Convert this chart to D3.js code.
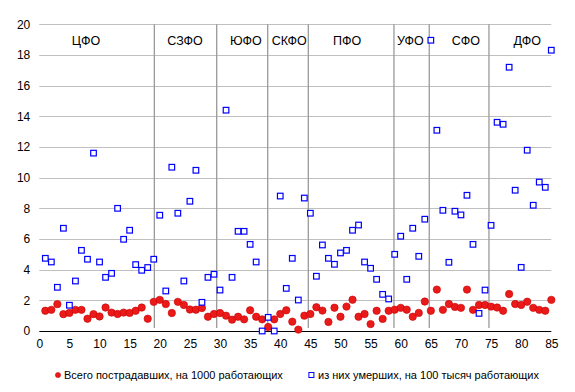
<!DOCTYPE html>
<html>
<head>
<meta charset="utf-8">
<script src="https://cdn.jsdelivr.net/npm/d3@7/dist/d3.min.js"></script>
<style>
  html, body { margin: 0; padding: 0; background: #fff; }
  svg { display: block; font-family: "Liberation Sans", Arial, sans-serif; }
</style>
</head>
<body>
<svg id="chart" width="575" height="392"></svg>
<script>
// ---- data ----
const injured = [
  1.32, 1.38, 1.75, 1.10, 1.18, 1.38, 1.38, 0.80, 1.10, 0.95,
  1.53, 1.20, 1.11, 1.20, 1.18, 1.32, 1.53, 0.80, 1.90, 2.03,
  1.76, 1.17, 1.90, 1.70, 1.40, 1.39, 1.50, 0.93, 1.11, 1.17,
  1.00, 0.74, 0.93, 0.76, 1.35, 0.93, 0.76, 0.26, 0.76, 1.11,
  1.35, 0.61, 0.09, 1.00, 1.11, 1.55, 1.33, 0.59, 1.52, 0.93,
  1.59, 2.04, 0.93, 1.11, 0.45, 1.32, 0.79, 1.32, 1.39, 1.51,
  1.39, 0.93, 1.18, 1.92, 1.32, 2.70, 1.38, 1.76, 1.57, 1.51,
  2.70, 1.38, 1.70, 1.70, 1.59, 1.53, 1.32, 2.41, 1.76, 1.70,
  1.91, 1.51, 1.38, 1.32, 2.03
];
const deaths = [
  4.74, 4.50, 2.85, 6.70, 1.68, 3.26, 5.26, 4.68, 11.60, 4.50,
  3.50, 3.76, 8.00, 5.98, 6.57, 4.33, 3.96, 4.14, 4.68, 7.55,
  2.61, 10.68, 7.68, 3.26, 8.46, 10.48, 1.87, 3.50, 3.70, 2.67,
  14.40, 3.50, 6.50, 6.50, 5.65, 4.50, 0.00, 0.89, 0.00, 8.80,
  2.78, 4.74, 2.02, 8.67, 7.68, 3.57, 5.61, 4.74, 4.35, 5.09,
  5.26, 6.57, 6.91, 4.50, 4.09, 3.37, 2.39, 2.09, 5.00, 6.18,
  3.37, 6.70, 4.87, 7.29, 18.96, 13.09, 7.87, 4.48, 7.81, 7.57,
  8.85, 5.65, 1.15, 2.67, 6.89, 13.61, 13.48, 17.20, 9.18, 4.15,
  11.79, 8.20, 9.71, 9.37, 18.31
];
const districts = ["ЦФО", "СЗФО", "ЮФО", "СКФО", "ПФО", "УФО", "СФО", "ДФО"];
const districtLabelX = [7.76, 24.2, 34.3, 41.5, 51.1, 61.6, 70.8, 81.0];
const separatorsX = [19.1, 29.45, 37.92, 44.66, 58.88, 64.74, 74.65];
const xTicks = d3.range(0, 86, 5);
const yTicks = d3.range(0, 21, 2);
const seriesNames = ["Всего пострадавших, на 1000 работающих", "из них умерших, на 100 тысяч работающих"];

// ---- layout ----
const svg = d3.select("#chart");
const x = d3.scaleLinear().domain([0, 85]).range([39.3, 551.3]);
const y = d3.scaleLinear().domain([0, 20]).range([331, 24.3]);
const font = "12px";

// gridlines
svg.append("g").selectAll("line").data(yTicks.filter(d => d > 0)).join("line")
  .attr("x1", x(0)).attr("x2", x(85))
  .attr("y1", d => Math.round(y(d)) + 0.5).attr("y2", d => Math.round(y(d)) + 0.5)
  .attr("stroke", "#c0c0c0").attr("stroke-width", 1);

// district separators
svg.append("g").selectAll("line").data(separatorsX).join("line")
  .attr("x1", d => x(d)).attr("x2", d => x(d))
  .attr("y1", y(20)).attr("y2", y(0) - 3)
  .attr("stroke", "#9a9a9a").attr("stroke-width", 1.3);

// x axis line
svg.append("line")
  .attr("x1", x(0)).attr("x2", x(85))
  .attr("y1", Math.round(y(0)) + 0.5).attr("y2", Math.round(y(0)) + 0.5)
  .attr("stroke", "#000").attr("stroke-width", 1);

// y tick labels
const yAxis = d3.axisLeft(y).tickValues(yTicks).tickSize(0).tickPadding(9);
const gy = svg.append("g").attr("transform", `translate(${x(0)},0)`).call(yAxis);
gy.select(".domain").remove();
gy.selectAll("text").attr("font-size", font).attr("fill", "#000")
  .attr("font-family", "'Liberation Sans', Arial, sans-serif");

// x tick labels
const xAxis = d3.axisBottom(x).tickValues(xTicks).tickSize(0).tickPadding(8);
const gx = svg.append("g").attr("transform", `translate(0,${y(0)})`).call(xAxis);
gx.select(".domain").remove();
gx.selectAll("text").attr("font-size", font).attr("fill", "#000")
  .attr("font-family", "'Liberation Sans', Arial, sans-serif");

// district labels
svg.append("g").selectAll("text").data(districts).join("text")
  .attr("x", (d, i) => x(districtLabelX[i]))
  .attr("y", y(18.65))
  .attr("text-anchor", "middle")
  .attr("font-size", "12.5px").attr("fill", "#000")
  .text(d => d);

// red circles
svg.append("g").selectAll("circle").data(injured).join("circle")
  .attr("cx", (d, i) => x(i + 1)).attr("cy", d => y(d))
  .attr("r", 3.7)
  .attr("fill", "#ea1a1a").attr("stroke", "#c80000").attr("stroke-width", 0.6);

// blue squares
const s = 5.6;
svg.append("g").selectAll("rect").data(deaths).join("rect")
  .attr("x", (d, i) => x(i + 1) - s / 2).attr("y", d => y(d) - s / 2)
  .attr("width", s).attr("height", s)
  .attr("fill", "#fff").attr("stroke", "#0000ff").attr("stroke-width", 1.2);

// legend
const ly = 379;
const lg = svg.append("g");
lg.append("circle").attr("cx", 58).attr("cy", ly - 4).attr("r", 2.6)
  .attr("fill", "#ea1a1a").attr("stroke", "#c80000").attr("stroke-width", 0.5);
lg.append("text").attr("x", 64).attr("y", ly).attr("font-size", "11px").attr("fill", "#000")
  .text(seriesNames[0]);
lg.append("rect").attr("x", 311.4 - 2.5).attr("y", ly - 6.5).attr("width", 5).attr("height", 5)
  .attr("fill", "#fff").attr("stroke", "#0000ff").attr("stroke-width", 1);
lg.append("text").attr("x", 318).attr("y", ly).attr("font-size", "11px").attr("fill", "#000")
  .text(seriesNames[1]);
</script>
</body>
</html>
